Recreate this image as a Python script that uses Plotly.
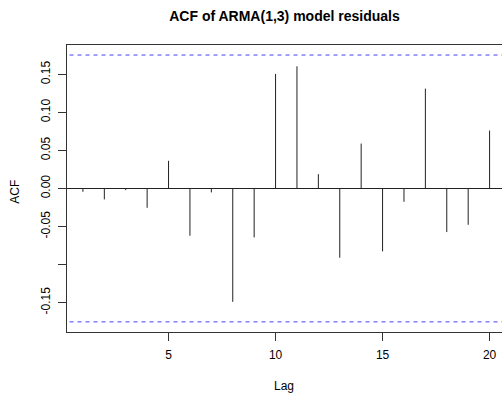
import plotly.graph_objects as go

# Data
lags = list(range(1, 21))
acf_vals = [-0.0044, -0.0144, -0.0022, -0.0254, 0.0363, -0.0621, -0.0052, -0.1490,
            -0.0643, 0.1505, 0.1605, 0.0188, -0.0910, 0.0590, -0.0827, -0.0175,
            0.1312, -0.0573, -0.0477, 0.0761]
n_obs = 125
conf = 1.96 / n_obs ** 0.5

y_tickvals = [-0.15, -0.10, -0.05, 0.00, 0.05, 0.10, 0.15]
y_ticktext = ["-0.15", "", "-0.05", "0.00", "0.05", "0.10", "0.15"]
x_tickvals = [5, 10, 15, 20]

FONT = "Liberation Sans, Arial, Helvetica, sans-serif"

L, R, T, B = 67, 0, 45, 64
W, H = 502, 396
ph = H - T - B
pw = W - L - R

xs, ys = [], []
for l, v in zip(lags, acf_vals):
    xs += [l, l, None]
    ys += [0, v, None]

fig = go.Figure()
fig.add_trace(go.Scatter(x=xs, y=ys, mode="lines",
                         line=dict(color="#222222", width=1), hoverinfo="skip",
                         showlegend=False))
for c in (conf, -conf):
    fig.add_trace(go.Scatter(x=[0, 22], y=[c, c], mode="lines",
                             line=dict(color="#4040ff", width=1, dash="4px,4px"),
                             showlegend=False, hoverinfo="skip"))

fig.update_layout(
    width=W, height=H,
    margin=dict(l=L, r=R, t=T, b=B),
    paper_bgcolor="white", plot_bgcolor="white",
    font=dict(family=FONT, size=12, color="black"),
    title=dict(text="<b>ACF of ARMA(1,3) model residuals</b>",
               x=0.5, xref="paper", xanchor="center",
               y=1 - 15.7 / H, yref="container", yanchor="middle",
               font=dict(family=FONT, size=14, color="black")),
    xaxis=dict(range=[0.256, 20.58], tickvals=x_tickvals, ticks="outside",
               ticklen=8, tickcolor="#333", tickwidth=1, showgrid=False,
               zeroline=False, showline=True, linecolor="#333", linewidth=1,
               mirror=True, tickfont=dict(size=12), ticklabelstandoff=4),
    yaxis=dict(range=[-0.1886, 0.1885], tickvals=y_tickvals, ticktext=y_ticktext,
               ticks="outside", ticklen=8, tickcolor="#333", tickwidth=1,
               tickangle=-90, showgrid=False, zeroline=True, zerolinecolor="#222",
               zerolinewidth=1, showline=True, linecolor="#333", linewidth=1,
               mirror=False, tickfont=dict(size=12), ticklabelstandoff=3),
    annotations=[
        dict(text="Lag", x=(284.4 - L) / pw, xref="paper",
             y=(H - B - 385.7) / ph, yref="paper",
             xanchor="center", yanchor="middle", showarrow=False, font=dict(size=12)),
        dict(text="ACF", x=(15 - L) / pw, xref="paper",
             y=(H - B - 191.7) / ph, yref="paper",
             xanchor="center", yanchor="middle", textangle=-90, showarrow=False,
             font=dict(size=12)),
    ],
)
fig.write_html("out.html")
